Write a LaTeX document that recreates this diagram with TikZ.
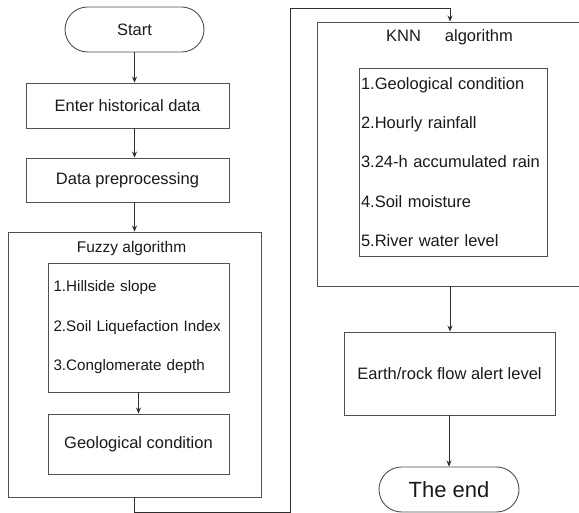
\documentclass[tikz,border=0pt]{standalone}
\usepackage{fontspec}
\setmainfont{Liberation Sans}
\usetikzlibrary{
  arrows.meta,
  shapes.misc,
  positioning
}
\definecolor{fcLine}{HTML}{505050}
\definecolor{fcArrow}{HTML}{2E2E2E}
\definecolor{fcText}{HTML}{1A1A1A}
\tikzset{
  fcnode/.style={
    draw=fcLine, line width=0.9pt, text=fcText, inner sep=2pt,
    font=\fontsize{16.5}{20}\selectfont
  },
  stepbox/.style={fcnode, rectangle, align=center},
  terminal/.style={fcnode, rounded rectangle, minimum width=143pt, minimum height=45pt},
  groupbox/.style={fcnode, rectangle},
  listbox/.style={fcnode, rectangle, align=left},
  flow/.style={-{Stealth[length=6pt, width=5pt]}, line width=0.8pt, fcArrow},
  tag/.style={text=fcText, inner sep=0pt, font=\fontsize{15.5}{20}\selectfont}
}

\begin{document}
\begin{tikzpicture}[x=1pt, y=-1pt]
  \useasboundingbox (0,0) rectangle (579,513);
  \clip (0,0) rectangle (579,513);
  \fill[white] (0,0) rectangle (579,513);
  % left column
  \node[terminal] (start) at (134.5,29.5) {Start};
  \node[stepbox, minimum width=203pt, minimum height=45pt] (enter) at (127.5,105.5) {Enter historical data};
  \node[stepbox, minimum width=203pt, minimum height=44pt] (prep) at (127.5,180) {Data preprocessing};
  \node[groupbox, minimum width=253pt, minimum height=265pt] (fuzzy) at (134.5,364.5) {};
  \node[tag] (fuzzytitle) at (131.5,248) {Fuzzy algorithm};
  \node[listbox, minimum width=181pt, minimum height=129pt, text width=170pt,
    font=\fontsize{15.2}{39.5}\selectfont] (hill) at (138.5,327.5)
    {1.Hillside slope\\2.Soil Liquefaction Index\\3.Conglomerate depth};
  \node[stepbox, minimum width=181pt, minimum height=60pt] (geo) at (138.5,444) {Geological condition};
  % right column
  \node[groupbox, minimum width=266pt, minimum height=264pt] (knn) at (450,154) {};
  \node[tag, font=\fontsize{16.5}{20}\selectfont] (knntitle) at (449.5,37) {KNN\hspace{24pt}algorithm};
  \node[listbox, minimum width=188pt, minimum height=188pt, text width=184pt,
    font=\fontsize{16.5}{39.3}\selectfont] (factors) at (453,162)
    {1.Geological condition\\2.Hourly rainfall\\3.24-h accumulated rain\\4.Soil moisture\\5.River water level};
  \node[stepbox, minimum width=211pt, minimum height=83pt] (alert) at (449.5,373.5) {Earth/rock flow alert level};
  \node[terminal, minimum width=144pt, font=\fontsize{22}{26}\selectfont] (theend) at (449,489.5) {The end};
  % connectors
  \coordinate (turnA) at (290,512);
  \coordinate (turnB) at (290,8);
  \draw[flow] (start.south) -- (start.south |- enter.north);
  \draw[flow] (start.south |- enter.south) -- (start.south |- prep.north);
  \draw[flow] (fuzzy.north |- prep.south) -- (fuzzy.north);
  \draw[flow] (hill) -- (geo);
  \draw[flow] (fuzzy.south) |- (turnA) -- (turnB) -| (knn.north);
  \draw[flow] (knn.south) -- (knn.south |- alert.north);
  \draw[flow] (alert.south -| theend.north) -- (theend.north);
\end{tikzpicture}
\end{document}
